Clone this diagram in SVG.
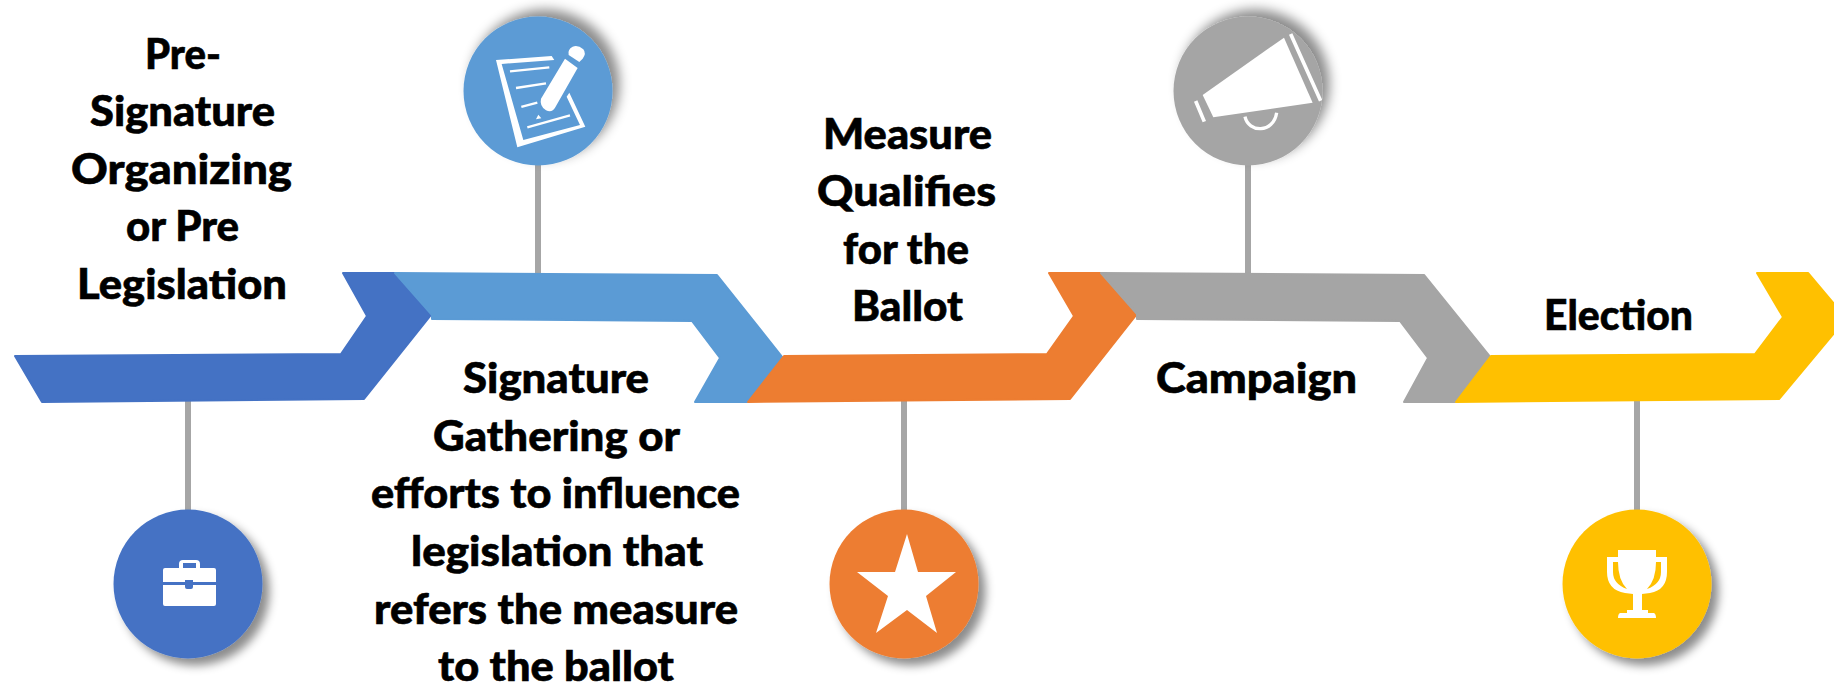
<svg xmlns="http://www.w3.org/2000/svg" width="1834" height="684" viewBox="0 0 1834 684">
<style>
text{font-family:"Lato","Liberation Sans",sans-serif;font-weight:900;font-size:42px;fill:#000;stroke:#000;stroke-width:.6px}
.ln{stroke:#a6a6a6;stroke-width:6;fill:none}
.ch{stroke-width:2;stroke-linejoin:round}
.w{fill:#fff}
.ws{fill:none;stroke:#fff;stroke-linecap:butt}
.b1{fill:#4472c4;stroke:#4472c4}.b2{fill:#5b9bd5;stroke:#5b9bd5}.o{fill:#ed7d31;stroke:#ed7d31}.g{fill:#a5a5a5;stroke:#a5a5a5}.y{fill:#ffc000;stroke:#ffc000}
</style>
<defs>
<filter id="sd" x="-25%" y="-25%" width="150%" height="150%"><feDropShadow dx="7" dy="7" stdDeviation="5" flood-color="#000" flood-opacity="0.45"/></filter>
<filter id="su" x="-25%" y="-25%" width="150%" height="150%"><feDropShadow dx="7" dy="-7" stdDeviation="6" flood-color="#000" flood-opacity="0.45"/></filter>
</defs>
<rect width="1834" height="684" fill="#fff"/>
<g id="connectors">
<line class="ln" x1="188" y1="400" x2="188" y2="512"/>
<line class="ln" x1="538" y1="160" x2="538" y2="276"/>
<line class="ln" x1="904" y1="400" x2="904" y2="512"/>
<line class="ln" x1="1248" y1="160" x2="1248" y2="276"/>
<line class="ln" x1="1637" y1="400" x2="1637" y2="512"/>
</g>
<g id="step-1">
<path class="ch b1" d="M343 273H396L431 315L364 399L42 402L15 356L341 354L367 316Z"/>
<circle cx="188" cy="584" r="74.5" fill="#4472c4" filter="url(#sd)"/>
<path class="w" fill-rule="evenodd" d="M165 568H179V564Q179 560 183 560H196Q200 560 200 564V568H214Q216 568 216 570V582H193V580H185V582H163V570Q163 568 165 568ZM183 563V568H196V563ZM163 585H185V587Q185 589 187 589H191Q193 589 193 587V585H216V604Q216 606 214 606H165Q163 606 163 604Z"/>
<text x="145" y="69" textLength="76" lengthAdjust="spacingAndGlyphs">Pre-</text>
<text x="90" y="126" textLength="185" lengthAdjust="spacingAndGlyphs">Signature</text>
<text x="71" y="184" textLength="221" lengthAdjust="spacingAndGlyphs">Organizing</text>
<text x="126" y="241" textLength="113" lengthAdjust="spacingAndGlyphs">or Pre</text>
<text x="77" y="299" textLength="210" lengthAdjust="spacingAndGlyphs">Legislation</text>
</g>
<g id="step-2">
<path class="ch b2" d="M395 273L717 275L783 358L747 402H695L720 358L692 321L432 319V315Z"/>
<circle cx="538" cy="91" r="74.5" fill="#5b9bd5" filter="url(#su)"/>
<g transform="translate(440 0) scale(.3333)">
<path class="w" d="M168 180L335 168L343 180L185 192L250 420L420 375L380 290L388 278L436 380L232 442Z"/>
<g class="ws" stroke-width="7"><path d="M210 214L328 202"/><path d="M228 264L318 250"/><path d="M244 321L292 308"/><path d="M262 382L390 346"/></g>
<path class="w" d="M295 344L288 358L304 355Z"/>
<path class="w" d="M303 296L375 176L413 204L346 322Q336 340 318 331Q298 318 303 296Z"/>
<path class="w" d="M386 165Q382 148 398 140Q414 134 430 148Q440 160 428 176L418 186Z"/>
</g>
<text x="463" y="393" textLength="186" lengthAdjust="spacingAndGlyphs">Signature</text>
<text x="433" y="451" textLength="247" lengthAdjust="spacingAndGlyphs">Gathering or</text>
<text x="371" y="508" textLength="369" lengthAdjust="spacingAndGlyphs">efforts to influence</text>
<text x="411" y="566" textLength="292" lengthAdjust="spacingAndGlyphs">legislation that</text>
<text x="374" y="624" textLength="364" lengthAdjust="spacingAndGlyphs">refers the measure</text>
<text x="438" y="681" textLength="236" lengthAdjust="spacingAndGlyphs">to the ballot</text>
</g>
<g id="step-3">
<path class="ch o" d="M1049 273H1101L1137 314L1070 399L748 402L784 356L1047 354L1074 316Z"/>
<circle cx="904" cy="584" r="74.5" fill="#ed7d31" filter="url(#sd)"/>
<path class="w" d="M907 534L918 572H956L926 596L937 633L907 610L876 633L888 596L857 572H895Z"/>
<text x="823" y="149" textLength="169" lengthAdjust="spacingAndGlyphs">Measure</text>
<text x="817" y="206" textLength="179" lengthAdjust="spacingAndGlyphs">Qualifies</text>
<text x="843" y="264" textLength="126" lengthAdjust="spacingAndGlyphs">for the</text>
<text x="852" y="321" textLength="111" lengthAdjust="spacingAndGlyphs">Ballot</text>
</g>
<g id="step-4">
<path class="ch g" d="M1101 273L1424 275L1491 358L1455 402H1404L1428 358L1400 321L1137 319V314Z"/>
<circle cx="1248" cy="91" r="74.5" fill="#a5a5a5" filter="url(#su)"/>
<g transform="translate(1160 0) scale(.3333)">
<path class="w" d="M128 285L372 113L458 308L160 352Z"/>
<path class="ws" stroke-width="11" d="M392 102L482 302M107 303L133 365"/>
<path class="ws" stroke-width="10" d="M255 350C265 398 340 402 350 338"/>
</g>
<text x="1156" y="393" textLength="201" lengthAdjust="spacingAndGlyphs">Campaign</text>
</g>
<g id="step-5">
<path class="ch y" d="M1757 273H1808L1835 305V332L1779 399L1456 402L1491 356L1755 354L1783 317Z"/>
<circle cx="1637" cy="584" r="74.5" fill="#ffc000" filter="url(#sd)"/>
<path class="w" fill-rule="evenodd" d="M1618 550H1656V557H1667V572Q1667 590 1650 593L1642 594V610H1648V613H1654Q1656 614 1656 618H1618Q1618 614 1620 613H1627V610H1633V594L1625 593Q1607 590 1607 572V557H1618ZM1613 562V572Q1613 584 1627 589Q1618 580 1618 562ZM1661 562H1656Q1656 580 1647 589Q1661 584 1661 572Z"/>
<text x="1544" y="330" textLength="149" lengthAdjust="spacingAndGlyphs">Election</text>
</g>
</svg>
